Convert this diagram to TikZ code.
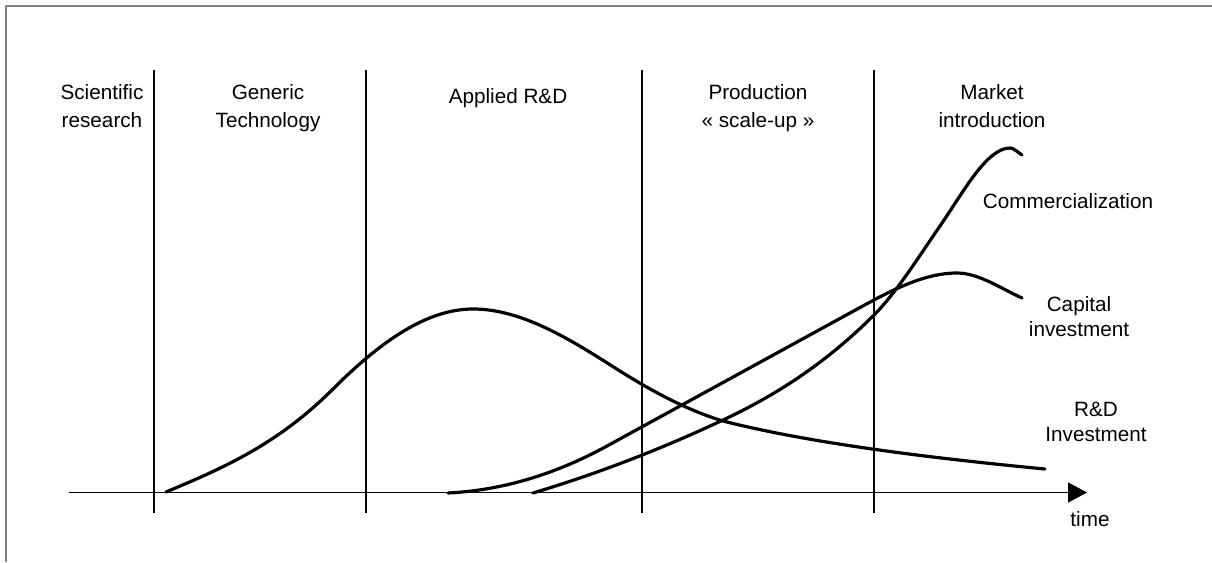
\documentclass[tikz,border=0pt]{standalone}
\usepackage{fontspec}
\setmainfont{Liberation Sans}
\usetikzlibrary{arrows.meta}

\begin{document}
\begin{tikzpicture}[x=1pt, y=-1pt, >={Triangle[length=19pt,width=20pt]}, line join=round,
  phase/.style={align=center, anchor=base, font=\fontsize{20.7}{28}\selectfont},
  curvelabel/.style={align=center, anchor=base, font=\fontsize{20.7}{25}\selectfont},
  curve/.style={line width=3.2pt, line cap=round},
  rule/.style={line width=1.6pt}]
  \useasboundingbox (0,0) rectangle (1212,562);
  \draw[line width=1.7pt, gray] (1212,6) -- (5.7,6) -- (5.7,562);

  % time axis and phase borders
  \coordinate (T0) at (69,492.5);
  \coordinate (T1) at (1087,492.5);
  \draw[rule, ->] (T0) -- (T1);
  \foreach \x in {154,366,642,874}
    \draw[rule] (\x,70) -- (\x,513);

  % base of a two-line node is its last line
  \node[phase] (sci) at (102,127) {Scientific\\research};
  \node[phase] (gen) at (268,127) {Generic\\Technology};
  \node[phase] (app) at (508,103) {Applied R\&D};
  \node[phase] (prod) at (758,127) {Production\\« scale-up »};
  \node[phase] (mkt) at (992,127) {Market\\introduction};

  % R&D investment
  \coordinate (P0) at (166,492);
  \coordinate (P1) at (333,389);
  \coordinate (P2) at (473,309);
  \coordinate (P3) at (612,366);
  \coordinate (P4) at (723,421);
  \coordinate (P5) at (1045,469);
  \draw[curve] (P0) .. controls (222,468.5) and (277,445) .. (P1)
    .. controls (379.7,342.3) and (426.3,309) .. (P2)
    .. controls (519.3,309) and (565.7,336.4) .. (P3)
    .. controls (649,389.7) and (686,409.9) .. (P4)
    .. controls (813,444) and (940,459) .. (P5);

  % capital investment
  \coordinate (Q0) at (448,493);
  \coordinate (Q1) at (607,446);
  \coordinate (Q2) at (850,313);
  \coordinate (Q3) at (957,273);
  \coordinate (Q4) at (1022,298);
  \draw[curve] (Q0) .. controls (501,490.4) and (554,475) .. (Q1) -- (Q2)
    .. controls (885.7,293.5) and (921.3,273) .. (Q3)
    .. controls (978.7,273) and (1000.3,288.2) .. (Q4);

  % commercialization
  \coordinate (R0) at (533,493);
  \coordinate (R1) at (723,420);
  \coordinate (R2) at (874,315);
  \coordinate (R3) at (940,226);
  \coordinate (R4) at (1010,148);
  \coordinate (R5) at (1022,155);
  \draw[curve] (R0) .. controls (596.3,474) and (659.7,449.8) .. (R1)
    .. controls (773.3,396.4) and (823.7,365.3) .. (R2)
    .. controls (896,293) and (918,257.9) .. (R3)
    .. controls (963.3,192.2) and (986.7,148) .. (R4)
    .. controls (1014,148) and (1018,152.6) .. (R5);

  \node[curvelabel] (comm) at (1068,208) {Commercialization};
  \node[curvelabel] (cap) at (1079,336) {Capital\\investment};
  \node[curvelabel] (rdi) at (1096,441) {R\&D\\Investment};
  \node[curvelabel] (time) at (1090,526) {time};
\end{tikzpicture}
\end{document}
